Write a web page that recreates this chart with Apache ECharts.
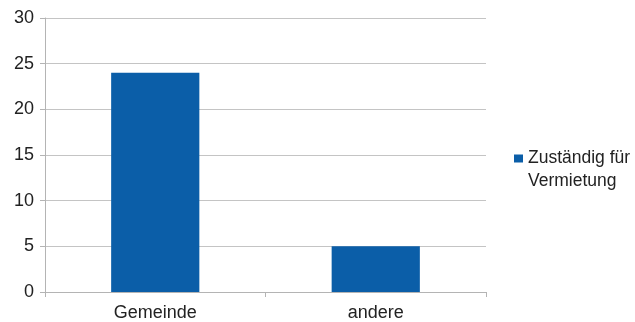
<!DOCTYPE html>
<html>
<head>
<meta charset="utf-8">
<script src="https://cdn.jsdelivr.net/npm/echarts@6/dist/echarts.min.js"></script>
<style>
  html, body { margin: 0; padding: 0; background: #fff; }
  #chart { width: 635px; height: 322px; }
</style>
</head>
<body>
<div id="chart"></div>
<script>
// Number of listings per responsible party
const categories = ['Gemeinde', 'andere'];
const seriesName = 'Zuständig für\nVermietung';
const values = [24, 5];
const yTicks = [0, 5, 10, 15, 20, 25, 30];

const chart = echarts.init(document.getElementById('chart'));
const font = 'Liberation Sans, Arial, sans-serif';

chart.setOption({
  animation: false,
  grid: { left: 45, right: 149, top: 18, bottom: 30, containLabel: false },
  legend: {
    left: 514,
    top: 124,
    orient: 'vertical',
    icon: 'rect',
    itemWidth: 9,
    itemHeight: 8,
    itemGap: 0,
    padding: 0,
    data: [seriesName],
    // a leading empty line keeps the swatch level with the first text line
    formatter: (name) => '\n' + name,
    textStyle: {
      fontFamily: font,
      fontSize: 17.5,
      color: '#222',
      lineHeight: 23
    }
  },
  xAxis: {
    type: 'category',
    data: categories,
    axisLine: { lineStyle: { color: '#b4b4b4', width: 1 } },
    axisTick: { show: true, length: 5, lineStyle: { color: '#b4b4b4' } },
    axisLabel: { fontFamily: font, fontSize: 18, color: '#222', margin: 12 }
  },
  yAxis: {
    type: 'value',
    min: yTicks[0],
    max: yTicks[yTicks.length - 1],
    interval: 5,
    axisLine: { show: true, lineStyle: { color: '#b4b4b4', width: 1 } },
    axisTick: { show: true, length: 5, lineStyle: { color: '#b4b4b4' } },
    axisLabel: { fontFamily: font, fontSize: 18, color: '#222', margin: 11 },
    splitLine: { lineStyle: { color: '#c4c4c4', width: 1 } }
  },
  series: [{
    name: seriesName,
    type: 'bar',
    data: values,
    barWidth: '40%',
    itemStyle: { color: '#0b5ea8' }
  }]
});
</script>
</body>
</html>
